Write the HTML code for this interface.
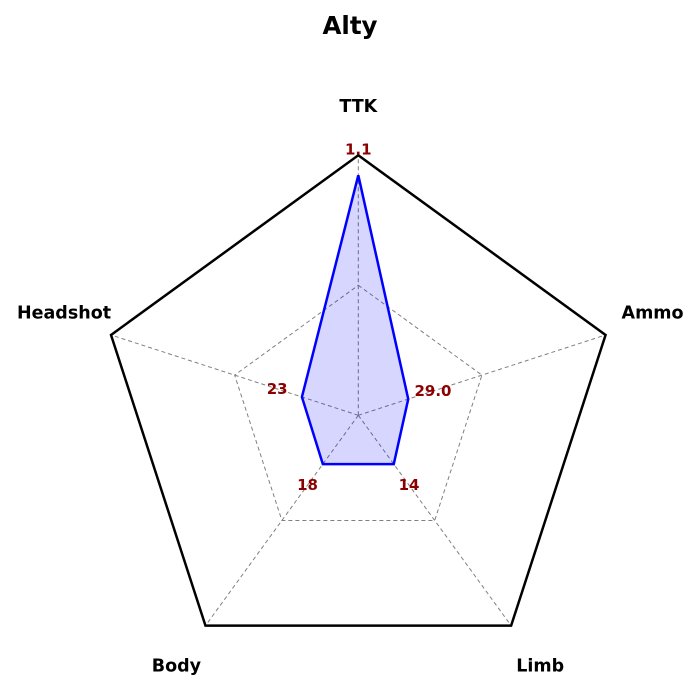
<!DOCTYPE html>
<html><head><meta charset="utf-8"><style>
html,body{margin:0;padding:0;background:#fff;}
svg{display:block;font-family:"DejaVu Sans","Liberation Sans",sans-serif;}
</style></head><body>
<svg id="chart" width="700" height="700" viewBox="0 0 700 700">
<text x="350" y="34" text-anchor="middle" font-size="24.5" font-weight="bold">Alty</text>
<g id="grid"></g><g id="series"></g><g id="labels"></g>
</svg>
<script>
const categories = ["TTK","Ammo","Limb","Body","Headshot"];
const normValues = [0.923, 0.202, 0.232, 0.232, 0.228];
const valueLabels = ["1.1","29.0","14","18","23"];
const gridLevels = [0.5, 1.0];

const cx = 358.3, cy = 415.3, R = 260;
const NS = "http://www.w3.org/2000/svg";
function angle(i){ return -Math.PI/2 + i*2*Math.PI/categories.length; }
function pt(i, r){ return [cx + r*R*Math.cos(angle(i)), cy + r*R*Math.sin(angle(i))]; }
function mk(tag, attrs, parent){ const e=document.createElementNS(NS,tag); for(const k in attrs) e.setAttribute(k,attrs[k]); parent.appendChild(e); return e; }
const grid=document.getElementById('grid'), series=document.getElementById('series'), labels=document.getElementById('labels');

categories.forEach((c,i)=>{
  const [x,y]=pt(i,1);
  const l=mk('line',{x1:cx,y1:cy,x2:x,y2:y,stroke:'#808080','stroke-width':1,'stroke-dasharray':'4,3'},grid);
  
  
});
gridLevels.forEach(lv=>{
  const pts=categories.map((c,i)=>pt(i,lv).join(',')).join(' ');
  const outer = lv===1;
  const p=mk('polygon',{points:pts,fill:'none',stroke:outer?'#000':'#808080','stroke-width':outer?2.5:1,'stroke-dasharray':outer?'none':'4,3'},grid);
  
  
});
const dpts=normValues.map((v,i)=>pt(i,v).join(',')).join(' ');
const poly=mk('polygon',{points:dpts,fill:'rgba(0,0,255,0.16)',stroke:'#0000ff','stroke-width':2.5,'stroke-linejoin':'miter'},series);



normValues.forEach((v,i)=>{
  const [x,y]=pt(i,v+0.1);
  const t=mk('text',{x:x,y:y+5,'text-anchor':'middle','font-size':15,'font-weight':'bold',fill:'#8b0000'},labels);
  t.textContent=valueLabels[i];
  
  
});
categories.forEach((c,i)=>{
  const [x,y]=pt(i,1.19);
  const side = (i===1||i===4) ? -7 : 0;
  const t=mk('text',{x:x,y:y+6+side,'text-anchor':'middle','font-size':17.5,'font-weight':'bold',fill:'#000'},labels);
  t.textContent=c;
  
  
});
</script>
</body></html>
